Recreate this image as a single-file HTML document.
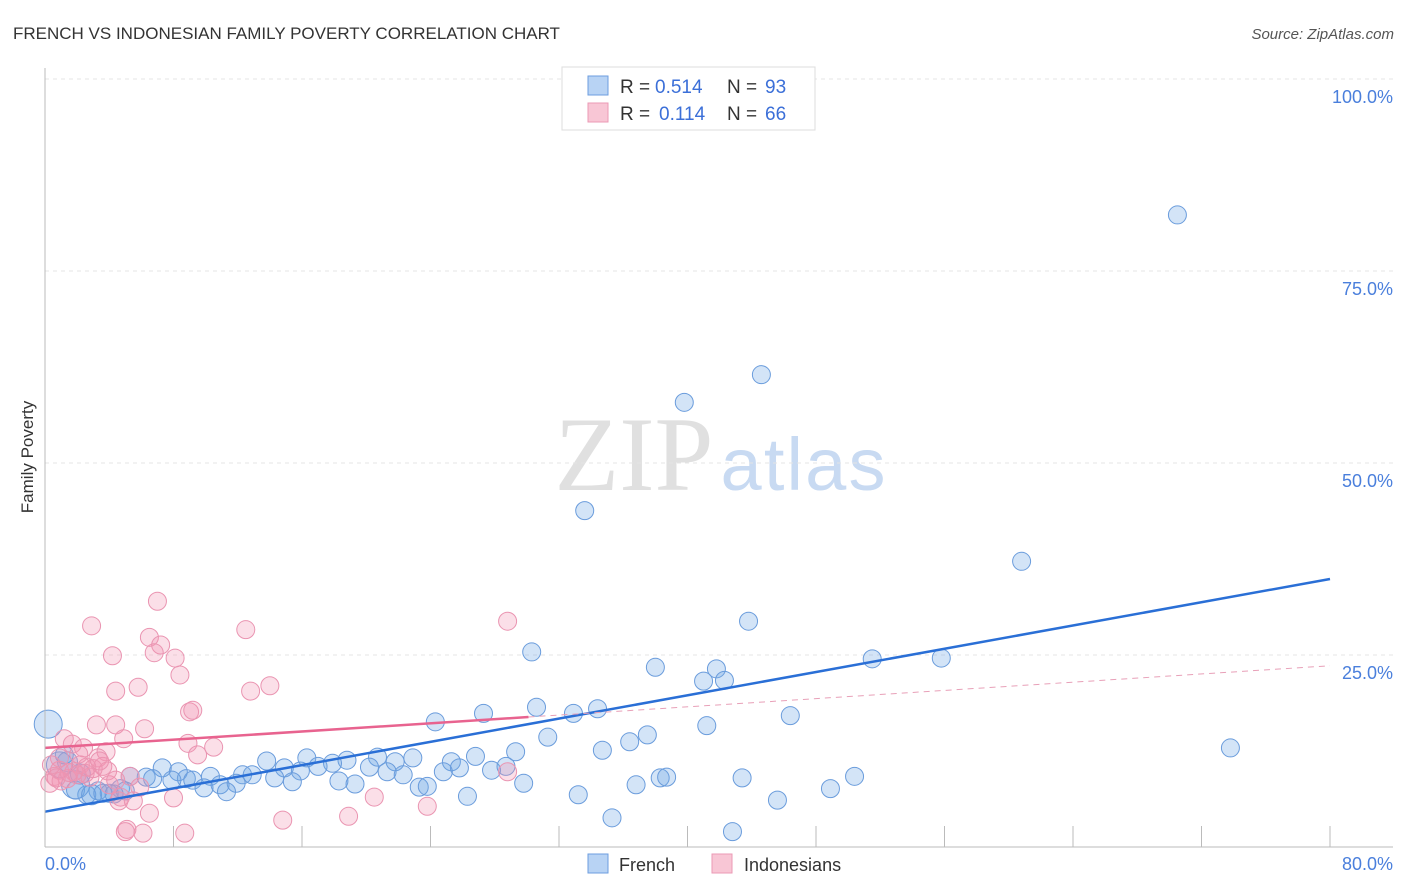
<!DOCTYPE html>
<html><head><meta charset="utf-8"><style>
body{margin:0;background:#fff;font-family:"Liberation Sans",sans-serif;}
svg{display:block}
</style></head><body>
<svg id="chart" width="1406" height="892">
<text x="13" y="39" font-size="17" fill="#333">FRENCH VS INDONESIAN FAMILY POVERTY CORRELATION CHART</text>
<text x="1394" y="39" font-size="15" fill="#555" font-style="italic" text-anchor="end">Source: ZipAtlas.com</text>
<text transform="translate(33,457) rotate(-90)" font-size="17" fill="#333" text-anchor="middle">Family Poverty</text>
<g>
<text x="634" y="490" font-size="106" font-family="Liberation Serif,serif" fill="#e0e0e0" text-anchor="middle">ZIP</text>
<text x="803" y="490" font-size="74" fill="#c8daf2" text-anchor="middle" textLength="165">atlas</text>
</g>
<g id="grid"></g><g id="marks"></g><g id="lines"></g>
<line x1="45" y1="68" x2="45" y2="847" stroke="#bbb"/>
<line x1="45" y1="847" x2="1393" y2="847" stroke="#bbb"/>
<text x="45" y="870" font-size="18" fill="#4a7fdc">0.0%</text>
<text x="1393" y="870" font-size="18" fill="#4a7fdc" text-anchor="end">80.0%</text>
<g>
<rect x="562" y="67" width="253" height="63" fill="#fff" stroke="#ddd"/>
<rect x="588" y="76" width="20" height="19" fill="#b8d3f4" stroke="#6d9edf"/>
<rect x="588" y="103" width="20" height="19" fill="#f8c6d5" stroke="#eb9ab5"/>
<text x="620" y="93" font-size="19" fill="#333">R =</text>
<text x="655" y="93" font-size="19" fill="#3b6fd8">0.514</text>
<text x="727" y="93" font-size="19" fill="#333">N =</text>
<text x="765" y="93" font-size="19" fill="#3b6fd8">93</text>
<text x="620" y="120" font-size="19" fill="#333">R =</text>
<text x="659" y="120" font-size="19" fill="#3b6fd8">0.114</text>
<text x="727" y="120" font-size="19" fill="#333">N =</text>
<text x="765" y="120" font-size="19" fill="#3b6fd8">66</text>
</g>
<g>
<rect x="588" y="854" width="20" height="19" fill="#b8d3f4" stroke="#6d9edf"/>
<text x="619" y="871" font-size="18" fill="#333">French</text>
<rect x="712" y="854" width="20" height="19" fill="#f8c6d5" stroke="#eb9ab5"/>
<text x="744" y="871" font-size="18" fill="#333">Indonesians</text>
</g>
</svg>
<script>
const yTicks=[25,50,75,100];
const yTickLabels=["25.0%","50.0%","75.0%","100.0%"];
const xTicks=[8,16,24,32,40,48,56,64,72,80];
const frenchX=[70.5,44.6,39.8,33.6,60.8,43.8,30.3,38.0,41.8,41.0,42.3,51.5,55.8,30.6,34.4,32.9,27.3,24.3,46.4,41.2,31.3,37.5,36.4,73.8,34.7,29.3,26.8,22.9,20.7,18.8,16.3,13.8,21.8,17.9,17.0,14.9,15.9,20.2,25.3,25.8,24.8,27.8,28.7,21.3,22.3,50.4,43.4,38.3,38.7,14.3,15.4,12.3,12.9,10.3,8.3,7.3,8.8,9.2,6.3,6.7,5.3,7.9,9.9,10.9,11.9,11.3,18.3,19.3,23.3,23.8,29.8,36.8,48.9,26.3,33.2,45.6,35.3,42.8,3.3,4.0,4.7,2.6,1.9,0.2,0.9,1.9,1.4,2.9,3.6,5.0,4.3,2.2,1.2];
const frenchY=[82.3,61.5,57.9,43.8,37.2,29.4,25.4,23.4,23.2,21.6,21.7,24.5,24.6,18.2,18.0,17.4,17.4,16.3,17.1,15.8,14.3,14.6,13.7,12.9,12.6,12.4,11.8,11.6,11.7,11.3,11.6,11.2,11.1,10.9,10.5,10.3,9.9,10.4,11.1,10.3,9.8,10.0,10.5,9.8,9.4,9.2,9.0,9.0,9.1,9.0,8.5,9.4,9.4,9.2,9.8,10.3,8.9,8.7,9.1,8.9,9.2,8.7,7.7,8.1,8.3,7.2,8.6,8.2,7.8,7.9,8.3,8.1,7.6,6.6,6.8,6.1,3.8,2.0,7.3,7.0,7.6,6.8,7.4,16.0,10.7,8.1,11.1,6.8,7.0,7.3,6.9,9.5,12.0];
const frenchR=[9,9,9,9,9,9,9,9,9,9,9,9,9,9,9,9,9,9,9,9,9,9,9,9,9,9,9,9,9,9,9,9,9,9,9,9,9,9,9,9,9,9,9,9,9,9,9,9,9,9,9,9,9,9,9,9,9,9,9,9,9,9,9,9,9,9,9,9,9,9,9,9,9,9,9,9,9,9,9,9,9,9,9,14,13,14,10,10,9,9,9,10,9];
const indoX=[7.0,2.9,28.8,12.5,6.5,7.2,6.8,4.2,8.1,8.4,5.8,4.4,12.8,14.0,9.0,9.2,3.2,4.4,6.2,4.9,1.2,1.7,8.9,10.5,9.5,2.4,3.8,3.3,2.2,3.6,0.9,0.6,1.4,2.5,5.3,5.9,4.0,4.7,8.0,20.5,23.8,28.8,4.6,6.5,18.9,14.8,5.1,5.0,6.1,8.7,5.5,0.9,0.4,2.8,1.8,3.0,0.3,1.0,2.0,3.9,4.4,0.7,1.5,2.6,3.4,2.1];
const indoY=[32.0,28.8,29.4,28.3,27.3,26.3,25.3,24.9,24.6,22.4,20.8,20.3,20.3,21.0,17.6,17.8,15.9,15.9,15.4,14.1,14.1,13.4,13.5,13.0,12.0,12.9,12.4,11.6,10.7,10.5,10.0,9.2,8.9,9.6,9.2,7.8,8.1,6.5,6.4,6.5,5.3,9.8,6.0,4.4,4.0,3.5,2.3,2.0,1.8,1.8,6.0,11.6,10.7,9.1,9.8,10.2,8.3,8.6,9.4,9.9,8.7,9.0,9.7,10.4,11.2,12.1];
const trendFrench=[4.6,34.9];
const trendIndo=[12.9,23.6];
const indoSolidEnd=30.1;

const X0=45,X1=1330,Y0=847,Y100=79;
const sx=v=>X0+(X1-X0)*v/80;
const sy=v=>Y0-(Y0-Y100)*v/100;
const NS="http://www.w3.org/2000/svg";
function mk(tag,attrs,parent){const e=document.createElementNS(NS,tag);for(const k in attrs)e.setAttribute(k,attrs[k]);parent.appendChild(e);return e;}
const grid=document.getElementById('grid'),marks=document.getElementById('marks'),lines=document.getElementById('lines');
yTicks.forEach((t,i)=>{
  const l=mk('line',{x1:X0,x2:1393,y1:sy(t),y2:sy(t),stroke:'#e4e4e4','stroke-dasharray':'4,4'},grid);
  
  
  const tx=mk('text',{x:1393,y:sy(t)+24,'font-size':18,fill:'#4a7fdc','text-anchor':'end'},grid);
  tx.textContent=yTickLabels[i];
  
  
});
xTicks.forEach(t=>{
  const l=mk('line',{x1:sx(t),x2:sx(t),y1:Y0-21,y2:Y0,stroke:'#bbb'},grid);
  
  
});
frenchX.forEach((x,i)=>{
  const c=mk('circle',{cx:sx(x),cy:sy(frenchY[i]),r:frenchR[i]||9,fill:'rgba(110,165,230,0.3)',stroke:'#6a9cdc','stroke-width':1},marks);
  
  
});
indoX.forEach((x,i)=>{
  const c=mk('circle',{cx:sx(x),cy:sy(indoY[i]),r:9,fill:'rgba(242,150,180,0.3)',stroke:'#ea94b1','stroke-width':1},marks);
  
  
});
const tf=mk('line',{x1:sx(0),y1:sy(trendFrench[0]),x2:sx(80),y2:sy(trendFrench[1]),stroke:'#2a6fd6','stroke-width':2.5},lines);


const iy=x=>trendIndo[0]+(trendIndo[1]-trendIndo[0])*x/80;
const ti=mk('line',{x1:sx(0),y1:sy(iy(0)),x2:sx(indoSolidEnd),y2:sy(iy(indoSolidEnd)),stroke:'#e8638f','stroke-width':2.5},lines);


const td=mk('line',{x1:sx(indoSolidEnd),y1:sy(iy(indoSolidEnd)),x2:sx(80),y2:sy(iy(80)),stroke:'#e8a0b8','stroke-width':1,'stroke-dasharray':'6,5'},lines);


</script>
</body></html>
